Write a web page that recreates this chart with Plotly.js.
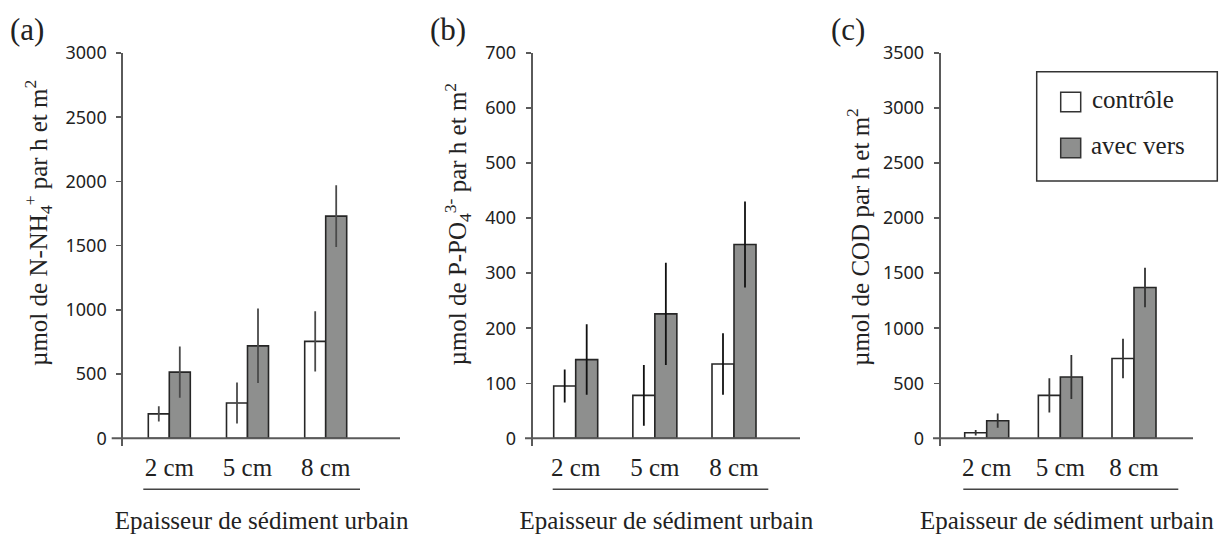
<!DOCTYPE html>
<html>
<head>
<meta charset="utf-8">
<script src="https://cdn.plot.ly/plotly-3.0.1.min.js"></script>
<style>html,body{margin:0;padding:0;background:#fff;}#chart{width:1228px;height:534px;}</style>
</head>
<body>
<div id="chart"></div>
<script>
// ---- data ----
const categories = ['2 cm', '5 cm', '8 cm'];
const seriesNames = ['contrôle', 'avec vers'];

const nh4Control = [190, 275, 755];
const nh4ControlErr = [60, 160, 235];
const nh4Vers = [515, 720, 1730];
const nh4VersErr = [200, 290, 240];

const po4Control = [95, 78, 135];
const po4ControlErr = [30, 55, 56];
const po4Vers = [143, 226, 352];
const po4VersErr = [64, 93, 78];

const codControl = [50, 390, 725];
const codControlErr = [25, 155, 180];
const codVers = [160, 557, 1370];
const codVersErr = [65, 200, 180];

const panelLabels = ['(a)', '(b)', '(c)'];
const yTitles = [
  'µmol de N-NH<sub>4</sub><sup>+</sup> par h et m<sup>2</sup>',
  'µmol de P-PO<sub>4</sub><sup>3-</sup> par h et m<sup>2</sup>',
  'µmol de COD par h et m<sup>2</sup>'
];
const xTitle = 'Epaisseur de sédiment urbain';

// ---- layout helpers ----
const W = 1228, H = 534;
const px = x => x / W;
const py = y => 1 - y / H;

const SERIF = 'Liberation Serif, Times New Roman, serif';
const SANS = 'Noto Sans, Liberation Sans, sans-serif';
const TXT = '#222';
const GRAY = '#8e8f8e';

const panels = [
  {ctl: nh4Control, ctlE: nh4ControlErr, ver: nh4Vers, verE: nh4VersErr,
   axX: 123.3, right: 400, c0: 169.3, sp: 78.2, bw: 21, ymax: 3000, dt: 500,
   lineLeft: 111.7, ulL: 143.3, ulR: 360, titleX: 38, lab: 8, errC: '#4a4a4a'},
  {ctl: po4Control, ctlE: po4ControlErr, ver: po4Vers, verE: po4VersErr,
   axX: 532.7, right: 800, c0: 575.7, sp: 79.15, bw: 22, ymax: 700, dt: 100,
   lineLeft: 525, ulL: 552.7, ulR: 768.3, titleX: 457, lab: 428, errC: '#111'},
  {ctl: codControl, ctlE: codControlErr, ver: codVers, verE: codVersErr,
   axX: 940.7, right: 1193, c0: 986.7, sp: 73.65, bw: 22, ymax: 3500, dt: 500,
   lineLeft: 933, ulL: 963.3, ulR: 1178.3, titleX: 858, lab: 829, errC: '#333'}
];

const yTop = 53, yZero = 438.3, yBottom = 446.3;

const data = [];
const layout = {
  width: W, height: H,
  margin: {l: 0, r: 0, t: 0, b: 0},
  paper_bgcolor: '#fff', plot_bgcolor: 'rgba(0,0,0,0)',
  showlegend: false,
  barmode: 'overlay',
  font: {family: SERIF, color: TXT},
  shapes: [], annotations: []
};

panels.forEach((p, i) => {
  const n = i === 0 ? '' : String(i + 1);
  const xa = 'x' + n, ya = 'y' + n;
  const w = p.bw / p.sp;
  const common = {type: 'bar', x: categories, xaxis: xa, yaxis: ya, width: w,
                  hoverinfo: 'x+y'};
  data.push(Object.assign({}, common, {
    name: seriesNames[0], y: p.ctl, offset: -w,
    marker: {color: '#ffffff', line: {color: '#262626', width: 1.6}},
    error_y: {type: 'data', array: p.ctlE, visible: true, width: 0, thickness: 1.8, color: p.errC}
  }));
  data.push(Object.assign({}, common, {
    name: seriesNames[1], y: p.ver, offset: 0,
    marker: {color: GRAY, line: {color: '#262626', width: 1.6}},
    error_y: {type: 'data', array: p.verE, visible: true, width: 0, thickness: 1.8, color: p.errC}
  }));

  const pxPerUnit = (yZero - yTop) / p.ymax;
  const yMin = -(yBottom - yZero) / pxPerUnit;
  const xLeft = (p.axX - p.c0) / p.sp;
  const xRight = (p.right - p.c0) / p.sp;

  layout['xaxis' + n] = {
    domain: [px(p.axX), px(p.right)],
    anchor: ya, type: 'category',
    range: [xLeft, xRight],
    showline: false, showgrid: false, zeroline: false, ticks: '',
    tickfont: {family: SERIF, size: 25, color: TXT},
    ticklabelstandoff: 4,
    title: {text: xTitle, font: {family: SERIF, size: 25, color: TXT}, standoff: 42},
    automargin: false, fixedrange: true
  };
  layout['yaxis' + n] = {
    domain: [py(yBottom), py(yTop)],
    anchor: xa,
    range: [yMin, p.ymax],
    tick0: 0, dtick: p.dt,
    showline: true, linecolor: '#5a5a5a', linewidth: 2,
    ticks: 'outside', ticklen: 5, tickwidth: 1.5, tickcolor: '#5a5a5a',
    ticklabelstandoff: 6,
    showgrid: false, zeroline: false,
    tickfont: {family: SANS, size: 18, color: TXT},
    automargin: false, fixedrange: true
  };

  // x axis baseline (extends slightly left of the y axis)
  const dw = p.right - p.axX;
  layout.shapes.push({type: 'line', xref: xa + ' domain', yref: ya,
    x0: (p.lineLeft - p.axX) / dw, x1: 1, y0: 0, y1: 0,
    line: {color: '#5a5a5a', width: 2}});
  // underline below category labels
  layout.shapes.push({type: 'line', xref: 'paper', yref: 'paper',
    x0: px(p.ulL), x1: px(p.ulR), y0: py(489.3), y1: py(489.3),
    line: {color: '#444', width: 1.6}});

  // y title
  layout.annotations.push({xref: 'paper', yref: 'paper', x: px(p.titleX), y: py(368),
    xanchor: 'center', yanchor: 'bottom', textangle: -90, showarrow: false,
    text: yTitles[i], font: {family: SERIF, size: 25, color: TXT}});
  // panel label
  layout.annotations.push({xref: 'paper', yref: 'paper', x: px(p.lab), y: py(29),
    xanchor: 'left', yanchor: 'middle', showarrow: false,
    text: panelLabels[i], font: {family: SERIF, size: 31, color: TXT}});
});

// legend (panel c)
layout.shapes.push({type: 'rect', xref: 'paper', yref: 'paper',
  x0: px(1036.7), x1: px(1217.3), y0: py(181), y1: py(71.7),
  line: {color: '#333', width: 1.5}, fillcolor: 'rgba(0,0,0,0)'});
layout.shapes.push({type: 'rect', xref: 'paper', yref: 'paper',
  x0: px(1060.7), x1: px(1080.7), y0: py(111.7), y1: py(92.3),
  line: {color: '#333', width: 1.5}, fillcolor: '#ffffff'});
layout.shapes.push({type: 'rect', xref: 'paper', yref: 'paper',
  x0: px(1060.7), x1: px(1080.7), y0: py(157.7), y1: py(138.3),
  line: {color: '#333', width: 1.5}, fillcolor: GRAY});
layout.annotations.push({xref: 'paper', yref: 'paper', x: px(1090), y: py(99),
  xanchor: 'left', yanchor: 'middle', showarrow: false, text: seriesNames[0],
  font: {family: SERIF, size: 25, color: TXT}});
layout.annotations.push({xref: 'paper', yref: 'paper', x: px(1088.5), y: py(145.5),
  xanchor: 'left', yanchor: 'middle', showarrow: false, text: seriesNames[1],
  font: {family: SERIF, size: 25, color: TXT}});

Plotly.newPlot('chart', data, layout, {displayModeBar: false, staticPlot: true});
</script>
</body>
</html>
